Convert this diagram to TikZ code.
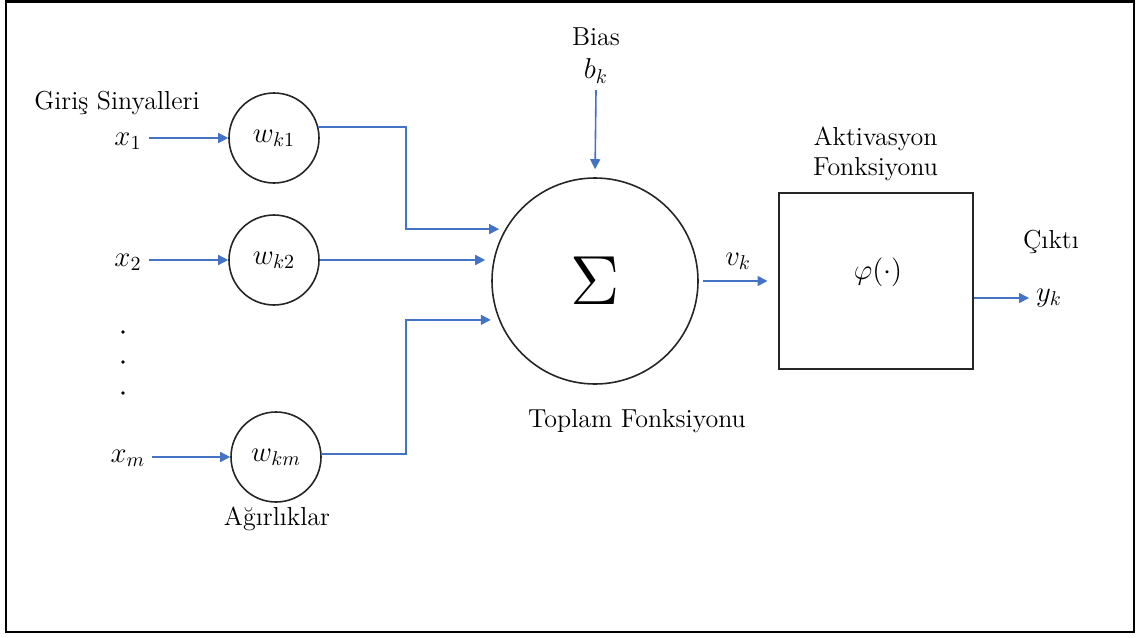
\documentclass[tikz,border=0pt]{standalone}
\usepackage{fontspec}
\usepackage{amsmath,amssymb}
\usepackage{xcolor}
\usepackage{tikz}
\usetikzlibrary{positioning, calc, arrows.meta}

\definecolor{sigblue}{RGB}{68,114,196}

\begin{document}
\begin{tikzpicture}[x=0.5pt, y=-0.5pt,
    every node/.style={font=\fontsize{13}{15}\selectfont},
    sym/.style={font=\fontsize{14.5}{17}\selectfont},
    weight/.style={circle, draw=black!85, line width=0.8pt, minimum size=45pt, inner sep=0pt, sym},
    sig/.style={draw=sigblue, line width=0.8pt, -{Triangle[length=5pt, width=5pt]}}]

    \useasboundingbox (0,0) rectangle (1140,637);

    % --- OUTER FRAME ---
    \draw[line width=1.2pt] (6,1.5) rectangle (1134,632);

    % --- INPUT SIGNALS ---
    \node (giris) at (117,103) {Giriş Sinyalleri};
    \node[sym] (x1) at (128,141) {$x_1$};
    \node[sym] (x2) at (128,262) {$x_2$};
    \node[sym] (xm) at (128,458) {$x_m$};
    % vertical dots between x2 and xm
    \fill (123,332) circle (0.9pt);
    \fill (123,362) circle (0.9pt);
    \fill (123,393) circle (0.9pt);

    % --- WEIGHTS ---
    \node[weight] (w1) at (274,138) {$w_{k1}$};
    \node[weight] (w2) at (274,260) {$w_{k2}$};
    \node[weight] (wm) at (276,457) {$w_{km}$};
    \node (agirlik) at (277,519) {Ağırlıklar};

    \draw[sig] (x1.east |- w1) -- (w1);
    \draw[sig] (x2.east |- w2) -- (w2);
    \draw[sig] (xm.east |- wm) -- (wm);

    % --- SUMMING JUNCTION ---
    \node[circle, draw=black!85, line width=0.8pt, minimum size=103pt, inner sep=0pt] (sum) at (595,281)
        {\scalebox{2.9}{$\Sigma$}};
    \node (toplam) at (637,421) {Toplam Fonksiyonu};

    % bends of the outer weight lines
    \coordinate (bend1) at (406,180);
    \coordinate (bend2) at (406,380);
    \draw[sig, shorten >=3pt] (w1.14) -| (bend1) |- (sum.150);
    \draw[sig, shorten >=3pt] (w2.east) -- (w2.east -| sum.west);
    \draw[sig, shorten >=4pt] (wm.4) -| (bend2) |- (sum.-158);

    % --- BIAS ---
    \node (bias) at (596,37) {Bias};
    \node[sym] (bk) at (596,71) {$b_k$};
    \draw[sig, shorten >=4pt] (bk.south) -- (sum.north);

    % --- ACTIVATION FUNCTION ---
    \node[draw=black!85, line width=1pt, minimum width=97pt, minimum height=88pt] (act) at (875.5,280.5) {};
    \node[sym] (phi) at (878,272) {$\varphi(\cdot)$};
    \node[align=center, above=2pt of act] (aktlabel) {Aktivasyon\\Fonksiyonu};

    \draw[sig, shorten <=2pt, shorten >=5pt] (sum.east) -- node[sym, above=2pt] (vk) {$v_k$} (act.west |- sum.east);

    % --- OUTPUT ---
    \node (cikti) at (1051,242) {Çıktı};
    \node[sym] (yk) at (1049,298) {$y_k$};
    \draw[sig] (yk.west -| act.east) -- (yk.west);

\end{tikzpicture}
\end{document}
